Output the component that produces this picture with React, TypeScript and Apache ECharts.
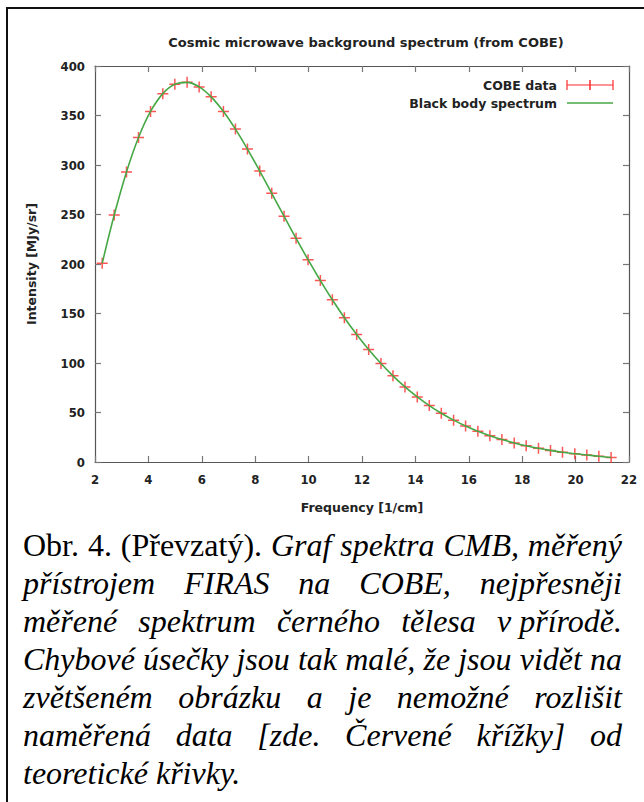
import React, { useEffect, useRef } from "react";
import * as echarts from "echarts";

const frequency = [2.27, 2.72, 3.18, 3.63, 4.08, 4.54, 4.99, 5.45, 5.9, 6.35, 6.81, 7.26, 7.71, 8.17, 8.62, 9.08, 9.53, 9.98, 10.44, 10.89, 11.34, 11.8, 12.25, 12.71, 13.16, 13.61, 14.07, 14.52, 14.97, 15.43, 15.88, 16.34, 16.79, 17.24, 17.7, 18.15, 18.61, 19.06, 19.51, 19.97, 20.42, 20.87, 21.33];
const intensity = [200.72, 249.51, 293.02, 327.77, 354.08, 372.08, 381.49, 383.48, 378.9, 368.83, 354.06, 336.28, 316.08, 293.92, 271.43, 248.24, 225.94, 204.33, 183.26, 163.83, 145.75, 128.84, 113.57, 99.45, 87.04, 75.88, 65.77, 57.01, 49.22, 42.27, 36.35, 31.06, 26.58, 22.64, 19.26, 16.39, 13.81, 11.72, 9.92, 8.36, 7.09, 5.8, 4.52];

const titleText = "Cosmic microwave background spectrum (from COBE)";
const xName = "Frequency [1/cm]";
const yName = "Intensity [MJy/sr]";
const seriesNames = ["COBE data", "Black body spectrum"];

// each line: list of [text, italic, keepTogether]
const captionLines: { parts: [string, boolean, boolean?][]; last?: boolean }[] = [
  { parts: [["Obr. 4. (Převzatý). ", false], ["Graf spektra CMB, měřený", true]] },
  { parts: [["přístrojem FIRAS na COBE, nejpřesněji", true]] },
  { parts: [["měřené spektrum černého tělesa ", true], ["v přírodě.", true, true]] },
  { parts: [["Chybové úsečky jsou tak malé, že jsou vidět na", true]] },
  { parts: [["zvětšeném obrázku a je nemožné rozlišit", true]] },
  { parts: [["naměřená data [zde. Červené křížky] od", true]] },
  { parts: [["teoretické křivky.", true]], last: true },
];

const FONT_C = "'DejaVu Sans Condensed', 'DejaVu Sans', sans-serif";
const FONT = "'DejaVu Sans', sans-serif";
const RED = "#ff2a2a";
const GREEN = "#45a845";
const AXIS = "#555555";

function Chart() {
  const ref = useRef<HTMLDivElement>(null);
  useEffect(() => {
    if (!ref.current) return;
    const chart = echarts.init(ref.current, undefined, { renderer: "svg" });
    const pts = frequency.map((f, i) => [f, intensity[i]]);
    const labelStyle = { fontFamily: FONT_C, fontWeight: "bold" as const, fontSize: 13, color: "#222" };
    const xBase = {
      type: "value" as const,
      min: 2,
      max: 22,
      interval: 2,
      splitLine: { show: false },
      axisLine: { show: true, onZero: false, lineStyle: { color: AXIS, width: 1.2 } },
      axisTick: { show: true, inside: true, length: 6, lineStyle: { color: "#777", width: 1.2 } },
    };
    const yBase = {
      type: "value" as const,
      min: 0,
      max: 400,
      interval: 50,
      splitLine: { show: false },
      axisLine: { show: true, onZero: false, lineStyle: { color: AXIS, width: 1.2 } },
      axisTick: { show: true, inside: true, length: 6, lineStyle: { color: "#777", width: 1.2 } },
    };
    chart.setOption({
      animation: false,
      backgroundColor: "#ffffff",
      title: {
        text: titleText,
        left: 361,
        top: 31,
        textAlign: "center",
        textStyle: { fontFamily: FONT, fontWeight: "bold", fontSize: 13, color: "#222" },
      },
      grid: { left: 95, top: 66, width: 534, height: 396, containLabel: false },
      xAxis: [
        {
          ...xBase,
          position: "bottom",
          axisLabel: { ...labelStyle, margin: 11 },
          name: xName,
          nameLocation: "middle",
          nameGap: 39,
          nameTextStyle: { fontFamily: FONT, fontWeight: "bold", fontSize: 12.5, color: "#222", verticalAlign: "top" },
        },
        { ...xBase, position: "top", axisLabel: { show: false } },
      ],
      yAxis: [
        {
          ...yBase,
          position: "left",
          axisLabel: { ...labelStyle, margin: 10 },
          name: yName,
          nameLocation: "middle",
          nameGap: 57,
          nameTextStyle: { fontFamily: FONT, fontWeight: "bold", fontSize: 12.5, color: "#222" },
        },
        { ...yBase, position: "right", axisLabel: { show: false } },
      ],
      series: [
        {
          name: seriesNames[0],
          type: "scatter",
          data: pts,
          symbol: "path://M5,0L5,10M0,5L10,5",
          symbolSize: 11,
          itemStyle: { color: "rgba(0,0,0,0)", borderColor: RED, borderWidth: 1.5 },
          z: 2,
        },
        {
          name: seriesNames[1],
          type: "line",
          data: pts,
          smooth: 0.4,
          showSymbol: false,
          lineStyle: { color: GREEN, width: 1.6 },
          z: 3,
        },
      ],
      graphic: [
        {
          type: "text",
          x: 557,
          y: 85,
          style: { text: seriesNames[0], fontFamily: FONT, fontWeight: "bold", fontSize: 12.5, fill: "#222", textAlign: "right", textVerticalAlign: "middle" },
        },
        {
          type: "text",
          x: 557,
          y: 103,
          style: { text: seriesNames[1], fontFamily: FONT, fontWeight: "bold", fontSize: 12.5, fill: "#222", textAlign: "right", textVerticalAlign: "middle" },
        },
        { type: "line", shape: { x1: 567, y1: 85, x2: 613, y2: 85 }, style: { stroke: RED, lineWidth: 1.2 } },
        { type: "line", shape: { x1: 567, y1: 80, x2: 567, y2: 90 }, style: { stroke: RED, lineWidth: 1.2 } },
        { type: "line", shape: { x1: 613, y1: 80, x2: 613, y2: 90 }, style: { stroke: RED, lineWidth: 1.2 } },
        { type: "line", shape: { x1: 590, y1: 80, x2: 590, y2: 90 }, style: { stroke: RED, lineWidth: 1.5 } },
        { type: "line", shape: { x1: 567, y1: 103, x2: 613, y2: 103 }, style: { stroke: GREEN, lineWidth: 1.6 } },
      ],
    });
    return () => chart.dispose();
  }, []);
  return <div ref={ref} style={{ position: "absolute", left: 0, top: 0, width: 644, height: 528 }} />;
}

export default function App() {
  return (
    <div style={{ position: "absolute", left: 0, top: 0, width: 644, height: 802, background: "#fff", overflow: "hidden" }}>
      <Chart />
      <div style={{ position: "absolute", left: 6, top: 7, width: 700, height: 2, background: "#111" }} />
      <div style={{ position: "absolute", left: 6, top: 7, width: 2, height: 820, background: "#111" }} />
      <div
        style={{
          position: "absolute",
          left: 23,
          top: 526,
          width: 599,
          fontFamily: "'Liberation Serif', 'Times New Roman', serif",
          fontSize: 32,
          lineHeight: "38px",
          color: "#000",
        }}
      >
        {captionLines.map((l, i) => (
          <div key={i} style={{ textAlign: l.last ? "left" : "justify", textAlignLast: l.last ? "left" : "justify", whiteSpace: "nowrap" } as React.CSSProperties}>
            {l.parts.map((p, j) => (
              <span
                key={j}
                style={{ fontStyle: p[1] ? "italic" : "normal", display: p[2] ? "inline-block" : "inline" }}
              >
                {p[0]}
              </span>
            ))}
          </div>
        ))}
      </div>
    </div>
  );
}
